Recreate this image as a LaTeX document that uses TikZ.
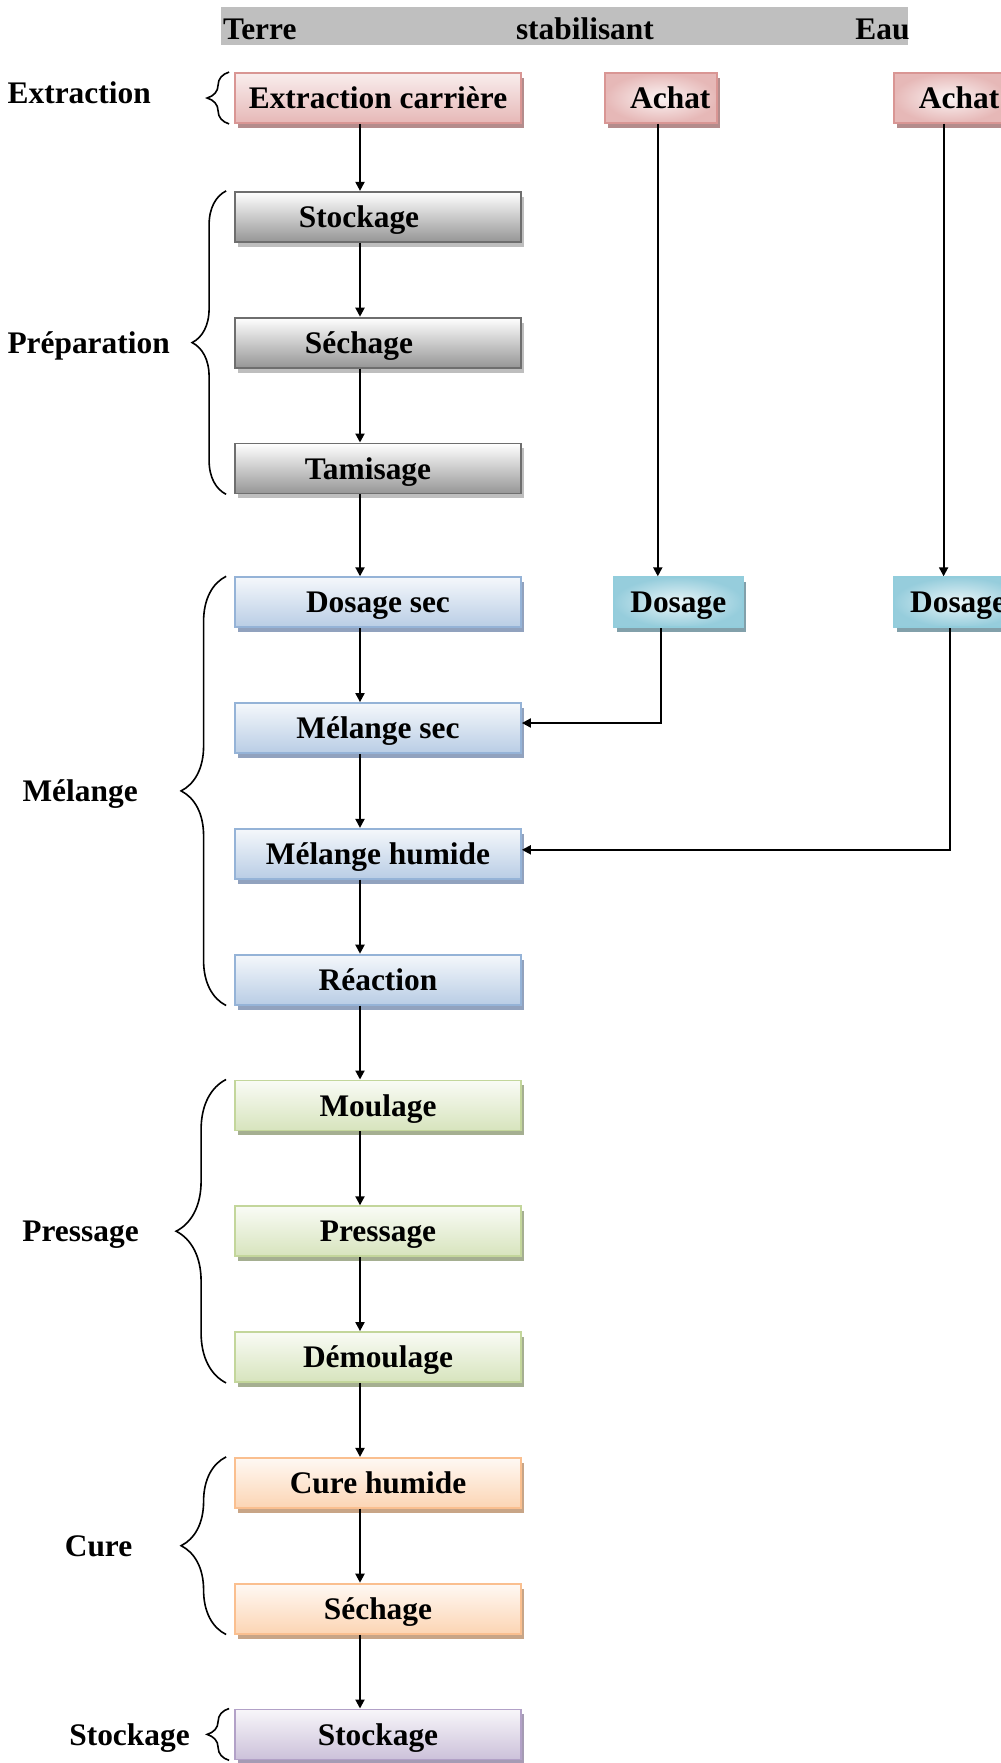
\documentclass[tikz,border=0pt]{standalone}
\usepackage{fontspec}
\setmainfont{Liberation Serif}
\usetikzlibrary{arrows.meta,positioning,shadows,decorations.pathreplacing}
\definecolor{pinkB}{RGB}{217,150,148}\definecolor{pinkF}{RGB}{230,184,183}\definecolor{pinkS}{RGB}{180,140,140}
\definecolor{grayB}{RGB}{110,110,110}\definecolor{grayF}{RGB}{150,150,150}\definecolor{grayS}{RGB}{190,190,190}
\definecolor{blueB}{RGB}{149,179,215}\definecolor{blueF}{RGB}{185,205,229}\definecolor{blueS}{RGB}{145,162,190}
\definecolor{cyanB}{RGB}{146,205,220}\definecolor{cyanF}{RGB}{150,205,220}\definecolor{cyanS}{RGB}{130,160,170}
\definecolor{greenB}{RGB}{195,214,155}\definecolor{greenF}{RGB}{215,228,189}\definecolor{greenS}{RGB}{165,175,145}
\definecolor{orB}{RGB}{250,191,143}\definecolor{orF}{RGB}{252,213,180}\definecolor{orS}{RGB}{200,165,135}
\definecolor{purB}{RGB}{178,161,199}\definecolor{purF}{RGB}{204,193,218}\definecolor{purS}{RGB}{165,155,180}
\newcommand\lblfont{\fontsize{15.7pt}{18pt}\selectfont\bfseries}

\begin{document}
\begin{tikzpicture}[node distance=37pt,
box/.style={draw,line width=0.9pt,minimum width=143pt,minimum height=25pt,inner sep=0pt,text height=10.7pt,text depth=0pt,font=\lblfont},
shd/.style={drop shadow={shadow xshift=1.5pt,shadow yshift=-2.5pt,fill=#1,opacity=1}},
pinkbox/.style={box,draw=pinkB,top color=pinkF!25,bottom color=pinkF,shd=pinkS},
smallpink/.style={box,minimum width=56pt,draw=pinkB,inner color=pinkF!15,outer color=pinkF,shd=pinkS},
graybox/.style={box,draw=grayB,top color=white,bottom color=grayF,shd=grayS},
bluebox/.style={box,draw=blueB,top color=blueF!15,bottom color=blueF,shd=blueS},
cyanbox/.style={box,minimum width=64.5pt,draw=cyanB,inner color=cyanF!20,outer color=cyanF,shd=cyanS},
greenbox/.style={box,draw=greenB,top color=greenF!15,bottom color=greenF,shd=greenS},
orangebox/.style={box,draw=orB,top color=orF!15,bottom color=orF,shd=orS},
purplebox/.style={box,draw=purB,top color=purF!15,bottom color=purF,shd=purS},
hdtxt/.style={inner sep=0pt,anchor=base west,font=\lblfont},
grp/.style={inner sep=0pt,text height=10.7pt,text depth=0pt,font=\lblfont},
brc/.style={decorate,decoration={brace,amplitude=#1},line width=0.8pt},
arr/.style={-{Triangle[length=4.5pt,width=4.5pt]},line width=1pt}]
\useasboundingbox (0,0) rectangle (500.5pt,-881.5pt);
% en-tete
\node[fill=black!25,minimum width=343.3pt,minimum height=18.9pt,inner sep=0pt] (hdr) at (282.35pt,-13.1pt) {};
\node[hdtxt] (hTerre) at (111.4pt,-19.5pt) {Terre};
\node[hdtxt] (hStab) at (257.8pt,-19.5pt) {stabilisant};
\node[hdtxt] (hEau) at (427.5pt,-19.5pt) {Eau};
% colonne terre
\node[pinkbox] (ext) at (189pt,-49pt) {Extraction carrière};
\node[graybox,below=33.5pt of ext] (stk1) {Stockage\hspace*{19pt}};
\node[graybox,below=of stk1] (sech1) {Séchage\hspace*{19pt}};
\node[graybox,below=of sech1] (tam) {Tamisage\hspace*{10pt}};
\node[bluebox,below=41pt of tam] (dsec) {Dosage sec};
\node[bluebox,below=of dsec] (msec) {Mélange sec};
\node[bluebox,below=of msec] (mhum) {Mélange humide};
\node[bluebox,below=of mhum] (reac) {Réaction};
\node[greenbox,below=of reac] (moul) {Moulage};
\node[greenbox,below=of moul] (press) {Pressage};
\node[greenbox,below=of press] (demoul) {Démoulage};
\node[orangebox,below=of demoul] (cure) {Cure humide};
\node[orangebox,below=of cure] (sech2) {Séchage};
\node[purplebox,below=of sech2] (stk2) {Stockage};
% stabilisant et eau
\node[smallpink,right=41pt of ext] (achS) {\hspace*{9.5pt}Achat};
\node[smallpink,right=87.5pt of achS] (achE) {\hspace*{9.5pt}Achat};
\node[cyanbox,right=45.5pt of dsec] (dosS) {Dosage};
\node[cyanbox,right=74.5pt of dosS] (dosE) {Dosage};
% fleches
\draw[arr]([xshift=-9pt]ext.south)--([xshift=-9pt]stk1.north);\draw[arr]([xshift=-9pt]stk1.south)--([xshift=-9pt]sech1.north);
\draw[arr]([xshift=-9pt]sech1.south)--([xshift=-9pt]tam.north);\draw[arr]([xshift=-9pt]tam.south)--([xshift=-9pt]dsec.north);
\draw[arr]([xshift=-9pt]dsec.south)--([xshift=-9pt]msec.north);\draw[arr]([xshift=-9pt]msec.south)--([xshift=-9pt]mhum.north);
\draw[arr]([xshift=-9pt]mhum.south)--([xshift=-9pt]reac.north);\draw[arr]([xshift=-9pt]reac.south)--([xshift=-9pt]moul.north);
\draw[arr]([xshift=-9pt]moul.south)--([xshift=-9pt]press.north);\draw[arr]([xshift=-9pt]press.south)--([xshift=-9pt]demoul.north);
\draw[arr]([xshift=-9pt]demoul.south)--([xshift=-9pt]cure.north);\draw[arr]([xshift=-9pt]cure.south)--([xshift=-9pt]sech2.north);
\draw[arr]([xshift=-9pt]sech2.south)--([xshift=-9pt]stk2.north);
\draw[arr]([xshift=-1.5pt]achS.south)--([xshift=-1.5pt]achS.south|-dosS.north);\draw[arr]([xshift=-3pt]achE.south)--([xshift=-3pt]achE.south|-dosE.north);
\draw[arr](dosS.south-|achS.south)|-([yshift=2.5pt]msec.east);
\draw[arr](dosE.south-|achE.south)|-([yshift=2pt]mhum.east);
% accolades
\draw[brc=11pt]([xshift=-2.5pt]ext.south west)--node[grp,left=38.8pt,yshift=2.5pt] (gExt) {Extraction} ([xshift=-2.5pt]ext.north west);
\draw[brc=17pt]([xshift=-4pt]tam.south west)--node[grp,left=27.8pt] (gPrep) {Préparation} ([xshift=-4pt]stk1.north west);
\draw[brc=22.5pt]([xshift=-4pt]reac.south west)--node[grp,left=43.8pt] (gMel) {Mélange} ([xshift=-4pt]dsec.north west);
\draw[brc=25pt]([xshift=-4pt]demoul.south west)--node[grp,left=43.3pt] (gPress) {Pressage} ([xshift=-4pt]moul.north west);
\draw[brc=22.5pt]([xshift=-4pt]sech2.south west)--node[grp,left=46.5pt] (gCure) {Cure} ([xshift=-4pt]cure.north west);
\draw[brc=11pt]([xshift=-2.5pt]stk2.south west)--node[grp,left=19.3pt] (gStk) {Stockage} ([xshift=-2.5pt]stk2.north west);
\end{tikzpicture}
\end{document}
